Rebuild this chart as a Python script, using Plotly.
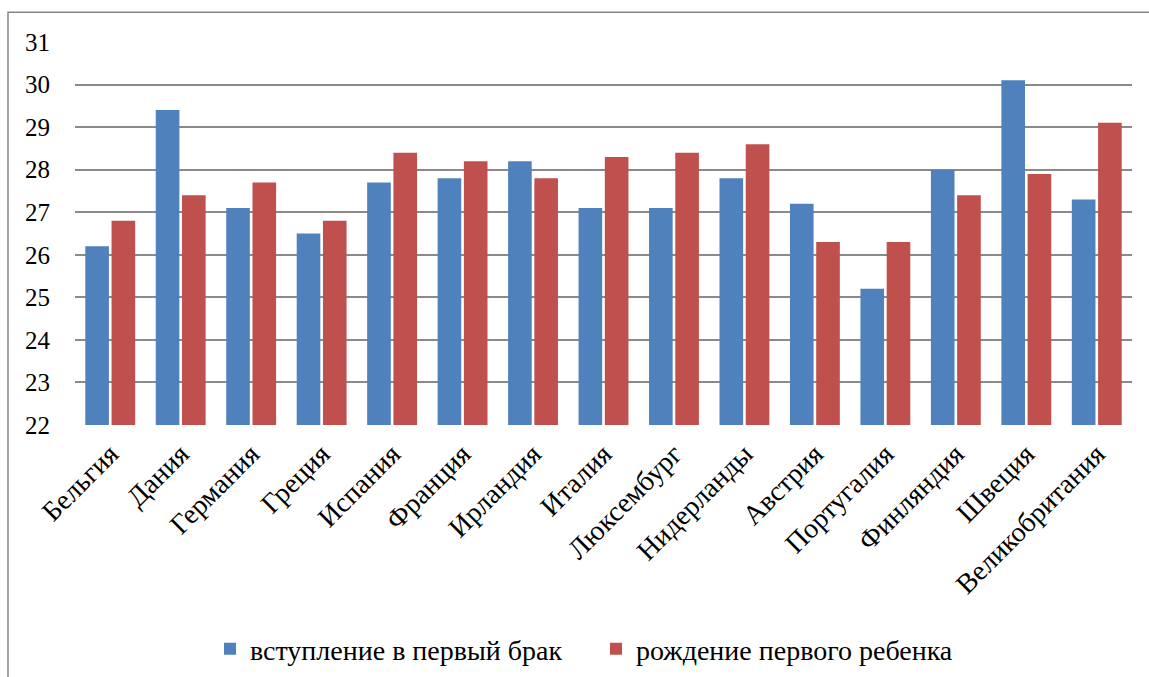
import plotly.graph_objects as go

countries = ["Бельгия", "Дания", "Германия", "Греция", "Испания", "Франция", "Ирландия",
             "Италия", "Люксембург", "Нидерланды", "Австрия", "Португалия", "Финляндия",
             "Швеция", "Великобритания"]
marriage = [26.2, 29.4, 27.1, 26.5, 27.7, 27.8, 28.2, 27.1, 27.1, 27.8, 27.2, 25.2, 28.0, 30.1, 27.3]
first_child = [26.8, 27.4, 27.7, 26.8, 28.4, 28.2, 27.8, 28.3, 28.4, 28.6, 26.3, 26.3, 27.4, 27.9, 29.1]
series_names = ["вступление в первый брак", "рождение первого ребенка"]
y_ticks = [22, 23, 24, 25, 26, 27, 28, 29, 30, 31]

font_family = "Liberation Serif"

fig = go.Figure()
fig.add_trace(go.Bar(x=countries, y=marriage, name=series_names[0], legend="legend",
                     marker=dict(color="#4F81BD", line=dict(width=0))))
fig.add_trace(go.Bar(x=countries, y=first_child, name=series_names[1], legend="legend2",
                     marker=dict(color="#C0504D", line=dict(width=0))))

leg_common = dict(font=dict(size=28, family=font_family, color="black"),
                  bgcolor="rgba(0,0,0,0)", yanchor="middle", y=-0.585, xanchor="left",
                  itemwidth=30)

fig.update_layout(
    width=1149, height=677,
    margin=dict(l=75, r=17, t=42, b=252, autoexpand=False),
    paper_bgcolor="white", plot_bgcolor="white",
    barmode="group", bargap=0.255, bargroupgap=0.1,
    font=dict(family=font_family, size=25, color="black"),
    showlegend=True,
    legend=dict(x=(210 - 75) / 1057, **leg_common),
    legend2=dict(x=(596 - 75) / 1057, **leg_common),
    xaxis=dict(tickangle=-45, showgrid=False, showline=False, ticks="",
               ticklabelstandoff=6, automargin=False,
               tickfont=dict(size=28, family=font_family, color="black")),
    yaxis=dict(range=[22, 31], tickvals=y_ticks, showgrid=True, gridcolor="#8a8a8a",
               gridwidth=1.5, zeroline=False, showline=False, ticks="", automargin=False,
               ticklabelstandoff=24, tickfont=dict(size=25, family=font_family, color="black")),
    shapes=[dict(type="rect", xref="paper", yref="paper",
                 x0=-0.0634, x1=1.05, y0=-0.8, y1=1.078,
                 line=dict(color="#868686", width=1.5), layer="below")],
)

fig.write_html("out.html", config={"displayModeBar": False},
               post_script="document.body.style.margin='0';document.body.style.overflow='hidden';")
